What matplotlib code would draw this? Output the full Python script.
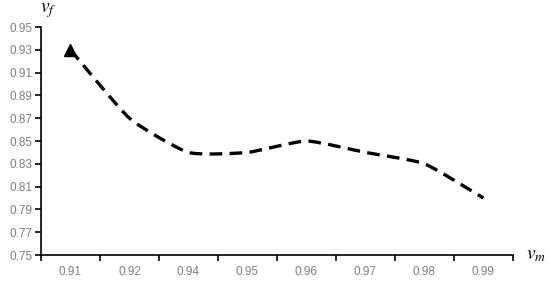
import numpy as np
import matplotlib.pyplot as plt
from matplotlib.path import Path
from matplotlib.patches import PathPatch

plt.rcParams['mathtext.fontset'] = 'stix'

# data
categories = ['0.91', '0.92', '0.94', '0.95', '0.96', '0.97', '0.98', '0.99']
vf = [0.93, 0.87, 0.84, 0.84, 0.85, 0.84, 0.83, 0.80]
y_ticks = [0.75, 0.77, 0.79, 0.81, 0.83, 0.85, 0.87, 0.89, 0.91, 0.93, 0.95]


def smooth_path(x, y, k=0.09):
    # Excel-like smoothed line: Catmull-Rom turned into cubic Bezier pieces
    pts = np.column_stack([x, y])
    p = np.vstack([pts[0], pts, pts[-1]])
    verts = [pts[0]]
    codes = [Path.MOVETO]
    for i in range(1, len(p) - 2):
        c1 = p[i] + (p[i + 1] - p[i - 1]) * k
        c2 = p[i + 1] - (p[i + 2] - p[i]) * k
        verts += [c1, c2, p[i + 1]]
        codes += [Path.CURVE4] * 3
    return Path(verts, codes)


fig = plt.figure(figsize=(5.5, 2.81), dpi=100)
ax = fig.add_axes([0.0745, 0.0925, 0.858, 0.8114])

x = np.arange(len(categories))
patch = PathPatch(smooth_path(x, vf), facecolor='none', edgecolor='black',
                  lw=2.4, linestyle=(0, (3.8, 2.2)), capstyle='butt')
ax.add_patch(patch)
ax.plot(x[0], vf[0], marker='^', color='black', markersize=8, ls='none')

ax.set_xlim(-0.5, len(categories) - 0.5)
ax.set_ylim(0.75, 0.95)
ax.set_yticks(y_ticks)
ax.set_yticklabels([f'{v:.2f}' for v in y_ticks])
ax.set_xticks(x)
ax.set_xticklabels(categories)
ax.set_xticks(np.arange(-0.5, len(categories)), minor=True)

for s in ['top', 'right']:
    ax.spines[s].set_visible(False)
for s in ['left', 'bottom']:
    ax.spines[s].set_linewidth(1.2)
    ax.spines[s].set_color('black')

ax.tick_params(axis='x', which='major', length=0, pad=8,
               labelsize=8.5, labelcolor='#7f7f7f')
ax.tick_params(axis='x', which='minor', length=4, width=1.2, direction='out')
ax.tick_params(axis='y', length=4, width=1.2, direction='out', pad=2,
               labelsize=8.5, labelcolor='#7f7f7f')
for lab in ax.get_xticklabels() + ax.get_yticklabels():
    lab.set_family('Liberation Sans')

fig.text(0.088, 0.962, r'$v_f$', fontsize=14, ha='center', va='center')
fig.text(0.975, 0.095, r'$v_m$', fontsize=14, ha='center', va='center')

plt.savefig('out.png', dpi=100)
plt.close()
